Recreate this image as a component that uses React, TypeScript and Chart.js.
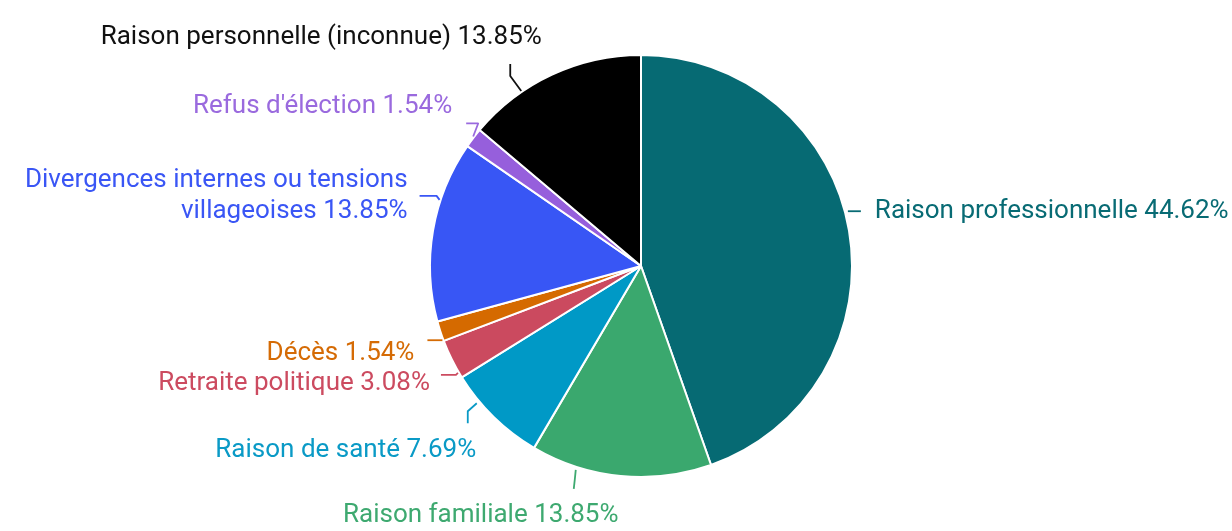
import React, { useEffect, useRef } from "react";
import { Chart, registerables } from "chart.js";

Chart.register(...registerables);

const categories: string[] = [
  "Raison professionnelle",
  "Raison familiale",
  "Raison de santé",
  "Retraite politique",
  "Décès",
  "Divergences internes ou tensions villageoises",
  "Refus d'élection",
  "Raison personnelle (inconnue)",
];
const counts: number[] = [29, 9, 5, 2, 1, 9, 1, 9];
const percentLabels: string[] = ["44.62%", "13.85%", "7.69%", "3.08%", "1.54%", "13.85%", "1.54%", "13.85%"];
const sliceColors: string[] = ["#066a73", "#3aa86e", "#0099c6", "#cb4a5f", "#d56a00", "#3856f5", "#965fdc", "#000000"];
const textColors: string[] = ["#086b74", "#3ea970", "#0a9ac6", "#cc4b60", "#d56b05", "#3a56f5", "#9a6ade", "#111111"];
const labelLines: string[][] = [
  ["Raison professionnelle 44.62%"],
  ["Raison familiale 13.85%"],
  ["Raison de santé 7.69%"],
  ["Retraite politique 3.08%"],
  ["Décès 1.54%"],
  ["Divergences internes ou tensions", "villageoises 13.85%"],
  ["Refus d'élection 1.54%"],
  ["Raison personnelle (inconnue) 13.85%"],
];

// label layout: where on the slice the leader starts (fraction of slice), leader path and text offset
type Layout = { t: number; gap: number; path: number[][]; tx: number; ty: number; align: CanvasTextAlign };
const layouts: Layout[] = [
  { t: 0.468, gap: 3, path: [[0, 0], [13, 0]], tx: 27, ty: 0, align: "left" },
  { t: 0.745, gap: 3, path: [[0, 0], [-1, 10], [-2, 19]], tx: -95, ty: 46, align: "center" },
  { t: 0.71, gap: 3, path: [[0, 0], [-9, 8], [-9, 20]], tx: -131, ty: 47, align: "center" },
  { t: 0.14, gap: 1, path: [[0, 0], [-2, 2], [-17, 2]], tx: -28, ty: 11, align: "right" },
  { t: 0.05, gap: 1, path: [[0, 0], [-15, 0]], tx: -28, ty: 13, align: "right" },
  { t: 0.67, gap: 1, path: [[0, 0], [-3, -4], [-20, -4]], tx: -32, ty: -3.5, align: "right" },
  { t: 0.55, gap: 1, path: [[0, 0], [5, -13], [-7, -13]], tx: -21, ty: -30, align: "right" },
  { t: 0.31, gap: 1, path: [[0, 0], [-11, -15], [-11, -27]], tx: -200, ty: -54, align: "center" },
];

const FONT = "26px Roboto";
const LINE_H = 31;

const labelPlugin = {
  id: "outerLabels",
  afterDraw(chart: any) {
    const ctx: CanvasRenderingContext2D = chart.ctx;
    const meta = chart.getDatasetMeta(0);
    meta.data.forEach((arc: any, i: number) => {
      const { x, y, startAngle, endAngle, outerRadius } = arc.getProps(["x", "y", "startAngle", "endAngle", "outerRadius"], true);
      const L = layouts[i];
      const a = startAngle + (endAngle - startAngle) * L.t;
      const r = outerRadius + L.gap;
      const ax = x + Math.cos(a) * r;
      const ay = y + Math.sin(a) * r;
      ctx.save();
      ctx.strokeStyle = textColors[i];
      ctx.lineWidth = 1.8;
      ctx.lineJoin = "round";
      ctx.beginPath();
      L.path.forEach((p, k) => {
        if (k === 0) ctx.moveTo(ax + p[0], ay + p[1]);
        else ctx.lineTo(ax + p[0], ay + p[1]);
      });
      ctx.stroke();
      ctx.fillStyle = textColors[i];
      ctx.font = FONT;
      ctx.textAlign = L.align;
      ctx.textBaseline = "middle";
      const lines = labelLines[i];
      const n = lines.length;
      lines.forEach((s, k) => {
        ctx.fillText(s, ax + L.tx, ay + L.ty + (k - (n - 1) / 2) * LINE_H);
      });
      ctx.restore();
    });
  },
};

export default function App() {
  const ref = useRef<HTMLCanvasElement | null>(null);
  useEffect(() => {
    if (!ref.current) return;
    const chart = new Chart(ref.current, {
      type: "pie",
      data: {
        labels: categories,
        datasets: [
          {
            data: counts,
            backgroundColor: sliceColors,
            borderColor: "#ffffff",
            borderWidth: 2,
          },
        ],
      },
      options: {
        animation: false,
        responsive: false,
        layout: { padding: { left: 429, right: 379, top: 54, bottom: 53 } },
        plugins: {
          legend: { display: false },
          tooltip: { enabled: false },
        },
      },
      plugins: [labelPlugin],
    });
    return () => chart.destroy();
  }, []);
  return (
    <div style={{ position: "fixed", left: 0, top: 0, width: 1232, height: 531, background: "#fff" }}>
      <canvas ref={ref} width={1232} height={531} style={{ width: 1232, height: 531 }} />
    </div>
  );
}
